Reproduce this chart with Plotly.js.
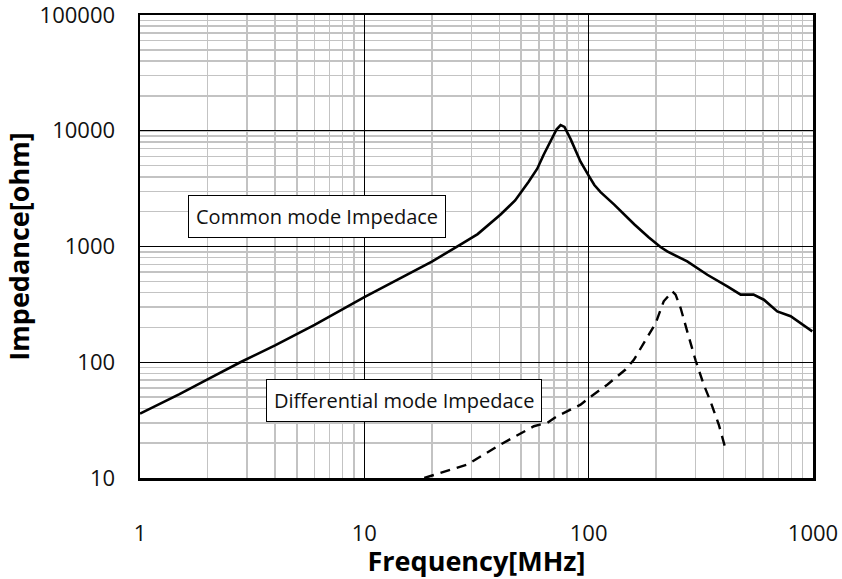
<!DOCTYPE html>
<html>
<head>
<meta charset="utf-8">
<script src="https://cdn.plot.ly/plotly-3.0.1.min.js"></script>
<style>html,body{margin:0;padding:0;background:#fff;}#chart{width:842px;height:579px;}</style>
</head>
<body>
<div id="chart"></div>
<script>
// Common mode impedance (MHz, ohm)
var cmFreq = [1, 1.5, 2, 2.8, 4, 6, 10, 14.5, 20, 26.8, 32, 40.5, 47, 54, 59, 63, 68, 72, 75, 78, 83, 88, 92, 100, 106, 113, 130, 160, 185, 209, 224, 275, 338, 415, 476, 543, 604, 693, 795, 993];
var cmImp  = [36, 53, 71, 100, 140, 210, 365, 530, 740, 1040, 1280, 1890, 2500, 3630, 4700, 6200, 8300, 10300, 11200, 10800, 8500, 6500, 5400, 4100, 3400, 2950, 2300, 1550, 1200, 990, 906, 743, 570, 452, 384, 384, 347, 275, 250, 185];
// Differential mode impedance (MHz, ohm)
var dmFreq = [18.5, 28.8, 40.5, 57, 65.4, 72.4, 92, 100, 121, 146, 159, 182, 199, 216, 236, 244, 257, 275, 300, 326, 349, 380, 408];
var dmImp  = [10, 13.1, 19.5, 28, 30, 34.2, 43, 49, 64, 86.5, 105, 162, 218, 336, 409, 384, 294, 185, 103, 64, 46, 29, 17.7];
var labels = ["Common mode Impedace", "Differential mode Impedace"];
var labelPos = [[1.63, 1183], [3.63, 30.5]];
var xTitle = "Frequency[MHz]";
var yTitle = "Impedance[ohm]";

var traces = [
  {x: cmFreq, y: cmImp, mode: 'lines', type: 'scatter', line: {color: '#000', width: 2.6}, hoverinfo: 'skip'},
  {x: dmFreq, y: dmImp, mode: 'lines', type: 'scatter', line: {color: '#000', width: 2.4, dash: '10px,7px'}, hoverinfo: 'skip'}
];

var axisCommon = {
  type: 'log', dtick: 1,
  showgrid: true, gridcolor: '#000', gridwidth: 1,
  showline: true, linecolor: '#000', linewidth: 2.5, mirror: true,
  ticks: '', zeroline: false, ticklabeloverflow: 'allow',
  tickfont: {family: 'Open Sans, sans-serif', size: 22, color: '#111'},
  minor: {dtick: 'D1', showgrid: true, gridcolor: '#c3c3c3', gridwidth: 1.5, ticks: ''}
};

var layout = {
  width: 842, height: 579,
  margin: {l: 140, r: 29, t: 15, b: 101},
  paper_bgcolor: '#fff', plot_bgcolor: '#fff',
  showlegend: false,
  xaxis: Object.assign({}, axisCommon, {
    range: [0, 3], tickvals: [1, 10, 100, 1000], ticktext: ['1', '10', '100', '1000'],
    ticklabelstandoff: 34,
    title: {text: xTitle, font: {family: 'Open Sans, sans-serif', size: 27, color: '#000', weight: 'bold'}, standoff: 5}
  }),
  yaxis: Object.assign({}, axisCommon, {
    range: [1, 5], tickvals: [10, 100, 1000, 10000, 100000], ticktext: ['10', '100', '1000', '10000', '100000'],
    ticklabelstandoff: 18,
    title: {text: yTitle, font: {family: 'Open Sans, sans-serif', size: 27, color: '#000', weight: 'bold'}, standoff: 12}
  }),
  annotations: labels.map(function (t, i) {
    return {
      x: Math.log10(labelPos[i][0]), y: Math.log10(labelPos[i][1]), xref: 'x', yref: 'y',
      text: t, showarrow: false, xanchor: 'left', yanchor: 'bottom',
      font: {family: 'Open Sans, sans-serif', size: 20, color: '#111'},
      bgcolor: '#fff', bordercolor: '#000', borderwidth: 1, borderpad: 7
    };
  })
};

Plotly.newPlot('chart', traces, layout, {staticPlot: true, displayModeBar: false});
</script>
</body>
</html>
